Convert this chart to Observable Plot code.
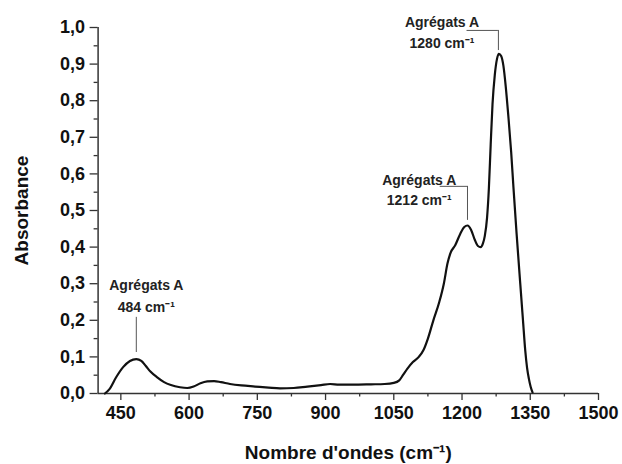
<!DOCTYPE html>
<html>
<head>
<meta charset="utf-8">
<script src="https://cdn.jsdelivr.net/npm/d3@7"></script>
<script src="https://cdn.jsdelivr.net/npm/@observablehq/plot@0.6"></script>
<style>
  html, body { margin: 0; padding: 0; background: #fff; }
  #chart { width: 622px; height: 464px; }
</style>
</head>
<body>
<div id="chart"></div>
<script>
// ---- data ----
const wavenumber = [
  415, 425, 440, 455, 470, 484, 495, 505, 515, 530, 545, 560, 580, 596,
  610, 625, 640, 655, 670, 690, 715, 745, 775, 800, 830, 860, 890, 910,
  930, 960, 1000, 1030, 1050, 1062, 1070, 1080, 1092, 1105, 1115, 1125,
  1137, 1150, 1160, 1168, 1175, 1185, 1196, 1205, 1212, 1220, 1228, 1235,
  1241, 1246, 1250, 1255, 1259, 1263, 1267, 1272, 1277, 1281, 1286, 1291,
  1296, 1302, 1308, 1313, 1320, 1328, 1334, 1339, 1343, 1347, 1351, 1355
];
const absorbance = [
  0.000, 0.012, 0.045, 0.072, 0.089, 0.094, 0.089, 0.075, 0.060, 0.044, 0.031, 0.023, 0.017, 0.015,
  0.019, 0.028, 0.033, 0.034, 0.031, 0.026, 0.022, 0.019, 0.016, 0.014, 0.015, 0.019, 0.023, 0.026,
  0.024, 0.024, 0.025, 0.026, 0.029, 0.036, 0.050, 0.068, 0.086, 0.100, 0.118, 0.150,
  0.200, 0.250, 0.300, 0.355, 0.385, 0.405, 0.436, 0.455, 0.459, 0.447, 0.420, 0.403,
  0.400, 0.410, 0.430, 0.480, 0.560, 0.680, 0.790, 0.870, 0.915, 0.928, 0.922, 0.895,
  0.840, 0.755, 0.660, 0.564, 0.436, 0.300, 0.200, 0.117, 0.070, 0.040, 0.018, 0.003
];

// axis ticks
const xMajor = [450, 600, 750, 900, 1050, 1200, 1350, 1500];
const xMinor = [525, 675, 825, 975, 1125, 1275, 1425];
const yMajor = [0, 0.1, 0.2, 0.3, 0.4, 0.5, 0.6, 0.7, 0.8, 0.9, 1.0];
const yMinor = [0.05, 0.15, 0.25, 0.35, 0.45, 0.55, 0.65, 0.75, 0.85, 0.95];

// texts
const xTitle = "Nombre d'ondes (cm\u207B\u00B9)";
const yTitle = "Absorbance";
const annTitle = "Agrégats A";
const peakX = [484, 1212, 1280];
const peakLabels = ["484 cm\u207B\u00B9", "1212 cm\u207B\u00B9", "1280 cm\u207B\u00B9"];

// annotation layout (label anchors and leader lines)
const annTextX  = [506, 1106, 1156];
const annTitleY = [0.295, 0.582, 1.014];
const annLabelY = [0.234, 0.527, 0.957];
const leadTopY  = [0.208, 0.566, 0.992];
const leadBotY  = [0.112, 0.473, 0.937];
const bracketX1 = [null, 1152, 1211];

// ---- build tables ----
const spectrum = wavenumber.map((w, i) => ({w, a: absorbance[i]}));
const ann = peakX.map((p, i) => ({
  p, label: peakLabels[i], tx: annTextX[i], ty1: annTitleY[i], ty2: annLabelY[i],
  top: leadTopY[i], bot: leadBotY[i], bx: bracketX1[i]
}));
const brackets = ann.filter(d => d.bx != null);
const fmtY = d => d.toFixed(1).replace(".", ",");
const fmtX = d => String(d);
const FONT = "'Liberation Sans', Arial, Helvetica, sans-serif";

const chart = Plot.plot({
  width: 622,
  height: 464,
  marginLeft: 97.6,
  marginRight: 24,
  marginTop: 27,
  marginBottom: 71,
  style: {fontFamily: FONT, background: "#fff", color: "#111", overflow: "visible"},
  x: {domain: [400, 1500]},
  y: {domain: [0, 1]},
  marks: [
    // minor ticks
    Plot.axisX({ticks: xMinor, tickSize: 3.5, tickFormat: () => "", label: null, stroke: "#333", strokeWidth: 1.3}),
    Plot.axisY({ticks: yMinor, tickSize: 4, tickFormat: () => "", label: null, stroke: "#333", strokeWidth: 1.3}),
    // major ticks + labels
    Plot.axisX({ticks: xMajor, tickSize: 7, tickPadding: 6, tickFormat: fmtX, label: null, fontSize: 18, fontWeight: "bold",
                stroke: "#333", strokeWidth: 1.3, fill: "#111"}),
    Plot.axisY({ticks: yMajor, tickSize: 8, tickPadding: 5, tickFormat: fmtY, label: null, fontSize: 18, fontWeight: "bold",
                stroke: "#333", strokeWidth: 1.3, fill: "#111"}),
    // axis lines
    Plot.ruleY([0], {stroke: "#333", strokeWidth: 1.5}),
    Plot.ruleX([400], {stroke: "#333", strokeWidth: 1.5}),
    // spectrum
    Plot.line(spectrum, {x: "w", y: "a", curve: "monotone-x", stroke: "#111", strokeWidth: 2.2}),
    // annotations: leader lines
    Plot.ruleX(ann, {x: "p", y1: "bot", y2: "top", stroke: "#555", strokeWidth: 1}),
    Plot.ruleY(brackets, {y: "top", x1: "bx", x2: "p", stroke: "#555", strokeWidth: 1}),
    Plot.text(ann, {x: "tx", y: "ty1", text: () => annTitle, fontSize: 14, fontWeight: "bold", fill: "#222"}),
    Plot.text(ann, {x: "tx", y: "ty2", text: "label", fontSize: 14, fontWeight: "bold", fill: "#222"}),
    // axis titles
    Plot.text([xTitle], {frameAnchor: "bottom", lineAnchor: "middle", textAnchor: "middle", dy: 59,
                         text: d => d, fontSize: 19, fontWeight: "bold", fill: "#111"}),
    Plot.text([yTitle], {frameAnchor: "left", lineAnchor: "middle", textAnchor: "middle", dx: -76.6, rotate: -90,
                         text: d => d, fontSize: 19, fontWeight: "bold", fill: "#111"})
  ]
});
document.getElementById("chart").appendChild(chart);
</script>
</body>
</html>
